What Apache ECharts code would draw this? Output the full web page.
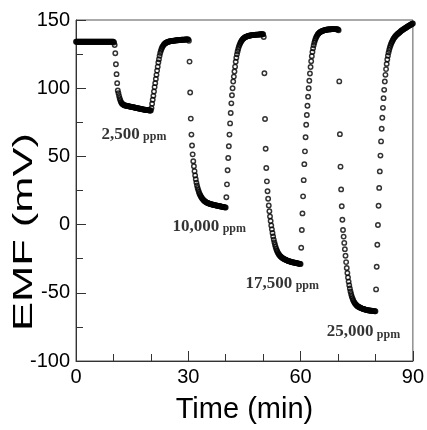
<!DOCTYPE html>
<html><head><meta charset="utf-8">
<script src="https://cdn.jsdelivr.net/npm/echarts@6/dist/echarts.min.js"></script>
<style>html,body{margin:0;padding:0;background:#fff}#c{width:427px;height:430px}</style>
</head><body><div id="c"></div>
<script>
// sampling interval of the logger (minutes)
const SAMPLE_STEP_MIN = 1 / 6;

// EMF readings (mV), one array per 10-min step of the gas programme
const seg01_air = [
134,134,134,134,134,134,134,134,134,134,
134,134,134,134,134,134,134,134,134,134,
134,134,134,134,134,134,134,134,134,134,
134,134,134,134,134,134,134,134,134,134,
134,134,134,134,134,134,134,134,134,134,
134,134,134,134,134,134,134,134,134,134];
const seg02_2500 = [
134,133.5,131.7,125.6,117.6,110.3,103.7,98.3,96.4,94.4,
92.7,91.2,90.0,89.2,88.6,88.2,87.9,87.6,87.4,87.3,
87.2,87.1,87.0,86.9,86.8,86.7,86.6,86.5,86.4,86.3,
86.2,86.1,86.0,85.9,85.8,85.7,85.6,85.5,85.4,85.3,
85.2,85.1,85.0,84.9,84.8,84.7,84.6,84.5,84.4,84.3,
84.2,84.2,84.1,84.0,84.0,83.9,83.8,83.8,83.7,83.7];
const seg03_air = [
83.7,85.5,88.6,91.5,94.4,97.6,100.8,103.7,106.8,109.8,
112.9,115.8,118.8,121.2,123.7,125.8,127.4,128.7,129.8,130.7,
131.4,132.0,132.5,132.9,133.2,133.5,133.7,133.9,134.0,134.2,
134.3,134.4,134.5,134.6,134.6,134.7,134.8,134.8,134.9,135.0,
135.0,135.1,135.1,135.2,135.2,135.3,135.3,135.4,135.4,135.5,
135.5,135.5,135.6,135.6,135.6,135.7,135.7,135.7,135.8,135.8];
const seg04_10000 = [
135.8,134.8,119.5,96.8,77.7,66.0,58.0,51.5,46.5,42.8,
39.2,36.0,33.2,30.8,28.7,26.9,25.3,23.9,22.7,21.7,
20.8,20.0,19.3,18.7,18.2,17.7,17.3,16.9,16.6,16.3,
16.0,15.8,15.6,15.5,15.3,15.2,15.0,14.9,14.8,14.6,
14.5,14.4,14.3,14.2,14.1,14.0,13.9,13.8,13.7,13.6,
13.5,13.4,13.3,13.2,13.1,13.0,12.9,12.8,12.7,12.6];
const seg05_air = [
12.5,20.0,29.5,39.8,48.8,57.4,66.0,74.2,81.8,88.9,
94.8,100.0,104.9,108.5,112.2,115.8,119.4,122.3,124.8,126.9,
128.7,130.3,131.6,132.7,133.7,134.5,135.2,135.8,136.3,136.7,
137.1,137.4,137.6,137.8,138.0,138.2,138.3,138.4,138.5,138.6,
138.7,138.8,138.9,138.9,139.0,139.0,139.1,139.1,139.2,139.2,
139.3,139.3,139.3,139.4,139.4,139.4,139.5,139.5,139.5,139.6];
const seg06_17500 = [
139.6,137.5,111.0,77.4,55.6,41.5,31.7,24.4,19.0,14.0,
9.8,6.0,2.6,-0.6,-3.5,-6.2,-8.7,-11.0,-13.0,-14.8,
-16.4,-17.8,-19.0,-20.0,-20.9,-21.7,-22.3,-22.9,-23.4,-23.8,
-24.2,-24.5,-24.8,-25.1,-25.3,-25.6,-25.8,-26.0,-26.2,-26.4,
-26.6,-26.8,-26.9,-27.1,-27.2,-27.4,-27.5,-27.6,-27.7,-27.8,
-27.9,-28.0,-28.1,-28.2,-28.3,-28.4,-28.5,-28.6,-28.7,-28.8];
const seg07_air = [
-28.8,-17.0,-4.0,8.2,20.7,32.6,44.3,53.7,64.0,73.2,
80.3,87.1,93.8,100.0,105.5,110.8,115.5,119.8,123.5,126.6,
129.2,131.4,133.3,134.9,136.2,137.3,138.2,139.0,139.7,140.2,
140.7,141.0,141.3,141.6,141.8,142.0,142.2,142.4,142.5,142.6,
142.7,142.8,142.9,143.0,143.0,143.1,143.1,143.2,143.2,143.2,
143.3,143.3,143.3,143.3,143.3,143.3,143.3,143.2,143.2,143.1];
const seg08_25000 = [
143.0,142.5,105.0,66.3,42.5,25.8,13.4,3.6,-4.0,-8.8,
-13.4,-18.0,-22.8,-27.5,-31.8,-35.5,-38.8,-41.8,-44.5,-46.9,
-49.0,-50.9,-52.5,-53.9,-55.1,-56.1,-57.0,-57.7,-58.3,-58.8,
-59.3,-59.7,-60.0,-60.3,-60.6,-60.8,-61.0,-61.2,-61.4,-61.6,
-61.8,-61.9,-62.1,-62.2,-62.3,-62.5,-62.6,-62.7,-62.8,-62.9,
-63.0,-63.0,-63.1,-63.2,-63.2,-63.3,-63.3,-63.4,-63.4,-63.5];
const seg09_air = [
-63.5,-47.5,-30.9,-14.8,-0.3,13.8,26.9,39.0,50.6,61.0,
70.3,78.3,85.6,92.7,98.8,104.9,109.8,114.0,117.8,121.0,
123.8,126.1,128.0,129.7,131.1,132.4,133.5,134.5,135.4,136.2,
136.9,137.5,138.1,138.6,139.1,139.5,139.9,140.3,140.7,141.1,
141.5,141.9,142.3,142.6,142.9,143.2,143.5,143.8,144.1,144.4,
144.7,145.0,145.3,145.6,145.9,146.2,146.4,146.7,146.9,147.2,
147.4];

// concentration labels
const concLabels = ['2,500', '10,000', '17,500', '25,000'];
const concUnit = 'ppm';
// label anchors (left edge, vertical middle) in data units [min, mV]
const concLabelAnchors = [[6.8, 65.9], [25.8, -1.4], [45.3, -43.3], [67.0, -78.7]];

// axis ticks
const xTickInterval = 30, xMin = 0, xMax = 90;
const yTickInterval = 50, yMin = -100, yMax = 150;

const allValues = [].concat(seg01_air, seg02_2500, seg03_air, seg04_10000, seg05_air,
  seg06_17500, seg07_air, seg08_25000, seg09_air);
const points = allValues.map((v, i) => [i * SAMPLE_STEP_MIN, v]);
const labelData = concLabels.map((c, i) => ({value: concLabelAnchors[i], name: c}));

const axisColor = '#333';
const sansFont = '"Liberation Sans", Arial, Helvetica, sans-serif';
const serifFont = '"Liberation Serif", "Times New Roman", serif';

const chart = echarts.init(document.getElementById('c'), null, {renderer: 'canvas'});
chart.setOption({
  animation: false,
  backgroundColor: '#fff',
  grid: {left: 76, right: 12, top: 20, bottom: 69, show: true, borderColor: '#555', borderWidth: 1},
  xAxis: {
    type: 'value', min: xMin, max: xMax, interval: xTickInterval,
    name: 'Time (min)', nameLocation: 'middle', nameGap: 34,
    nameTextStyle: {fontFamily: sansFont, fontSize: 29, color: '#000'},
    axisLine: {show: true, onZero: false, lineStyle: {color: axisColor, width: 1}},
    axisTick: {show: true, inside: true, length: 10, lineStyle: {color: axisColor}},
    minorTick: {show: true, splitNumber: 3, length: 7, lineStyle: {color: axisColor}},
    splitLine: {show: false},
    axisLabel: {fontFamily: sansFont, fontSize: 20, color: '#000', margin: 6}
  },
  yAxis: {
    type: 'value', min: yMin, max: yMax, interval: yTickInterval,
    axisLine: {show: true, onZero: false, lineStyle: {color: axisColor, width: 1}},
    axisTick: {show: true, inside: true, length: 10, lineStyle: {color: axisColor}},
    minorTick: {show: true, splitNumber: 2, length: 7, lineStyle: {color: axisColor}},
    splitLine: {show: false},
    axisLabel: {fontFamily: sansFont, fontSize: 20, color: '#000', margin: 6}
  },
  graphic: [{
    type: 'text', x: 24, y: 232, rotation: Math.PI / 2, scaleX: 1.45, scaleY: 0.95,
    style: {text: 'EMF (mV)', fontFamily: sansFont, fontSize: 30, fill: '#000',
      align: 'center', verticalAlign: 'middle'}
  }],
  series: [{
    type: 'scatter', data: points, symbol: 'circle', symbolSize: 4.4, silent: true,
    itemStyle: {color: 'rgba(0,0,0,0)', borderColor: '#000', borderWidth: 1.5}
  }, {
    type: 'scatter', data: labelData, symbolSize: 0, silent: true,
    label: {
      show: true, position: [0, 0], align: 'left', verticalAlign: 'middle',
      formatter: p => '{n|' + p.name + '} {u|' + concUnit + '}',
      rich: {
        n: {fontFamily: serifFont, fontWeight: 'bold', fontSize: 17, color: '#000', verticalAlign: 'bottom'},
        u: {fontFamily: serifFont, fontWeight: 'bold', fontSize: 12, color: '#000', verticalAlign: 'bottom'}
      }
    }
  }]
});
</script></body></html>
